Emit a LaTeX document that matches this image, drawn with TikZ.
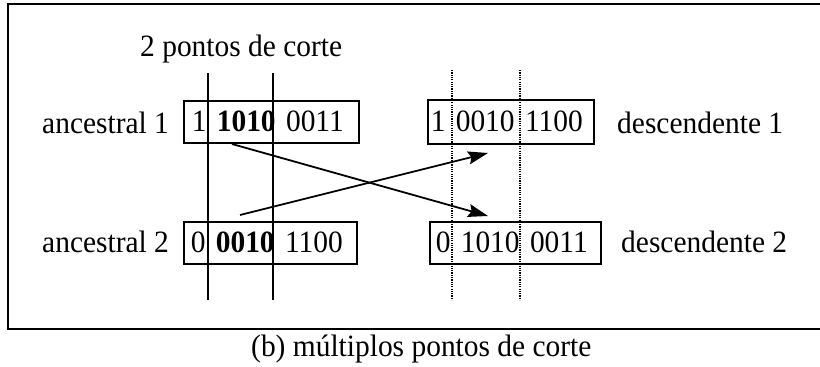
\documentclass[tikz,border=0pt]{standalone}
\usepackage{fontspec}
\setmainfont{Liberation Serif}[FakeStretch=0.95]
\usetikzlibrary{arrows.meta}

\tikzset{
  txt/.style={font=\fontsize{31}{36}\selectfont, inner sep=0pt},
  chrom/.style={txt, draw, line width=1.5pt, anchor=north west, inner ysep=0pt, align=left},
  cutline/.style={line width=1.5pt},
  newcut/.style={line width=1.4pt, dash pattern=on 1.2pt off 1.1pt},
  frame/.style={line width=2.2pt},
  swap/.style={line width=1.8pt, -{Stealth[length=20pt,width=13pt,inset=3pt]}}
}

\begin{document}
\begin{tikzpicture}[x=1pt, y=-1pt]
  \useasboundingbox (0,0) rectangle (820,367);

  % open frame (right side runs off the page)
  \draw[frame] (822,4) -- (8,4) -- (8,329) -- (822,329);

  % title
  \node[txt, anchor=base west] (title) at (140,56) {2 pontos de corte};

  % parent chromosomes
  \node[chrom, minimum width=175pt, minimum height=42pt, inner xsep=8pt, text width=159pt]
    (a1) at (183,100) {1 \textbf{1010} 0011};
  \node[chrom, minimum width=173pt, minimum height=42pt, inner xsep=7pt, text width=159pt]
    (a2) at (183,221) {0 \textbf{0010} 1100};

  % offspring chromosomes
  \node[chrom, minimum width=166pt, minimum height=44pt, inner xsep=3pt, text width=160pt]
    (d1) at (427,99) {1 0010 1100};
  \node[chrom, minimum width=171pt, minimum height=42pt, inner xsep=6pt, text width=159pt]
    (d2) at (429,221) {0 1010 0011};

  % labels
  \node[txt, anchor=base west] (la1) at (42,133) {ancestral 1};
  \node[txt, anchor=base west] (la2) at (42,252) {ancestral 2};
  \node[txt, anchor=base west] (ld1) at (617,133) {descendente 1};
  \node[txt, anchor=base west] (ld2) at (621,252) {descendente 2};

  % cut points on the parents
  \draw[cutline] (208,73) -- (208,300);
  \draw[cutline] (273,73) -- (273,300);

  % cut points on the offspring
  \draw[newcut] (452,70) -- (452,300);
  \draw[newcut] (520,70) -- (520,300);

  % exchange of the middle segments
  \coordinate (s1) at (232,144);
  \coordinate (t1) at (488,216);
  \coordinate (s2) at (240,215);
  \coordinate (t2) at (488,153);
  \draw[swap] (s1) -- (t1);
  \draw[swap] (s2) -- (t2);

  % caption
  \node[txt, anchor=base west] (cap) at (251,356) {(b) múltiplos pontos de corte};
\end{tikzpicture}
\end{document}
